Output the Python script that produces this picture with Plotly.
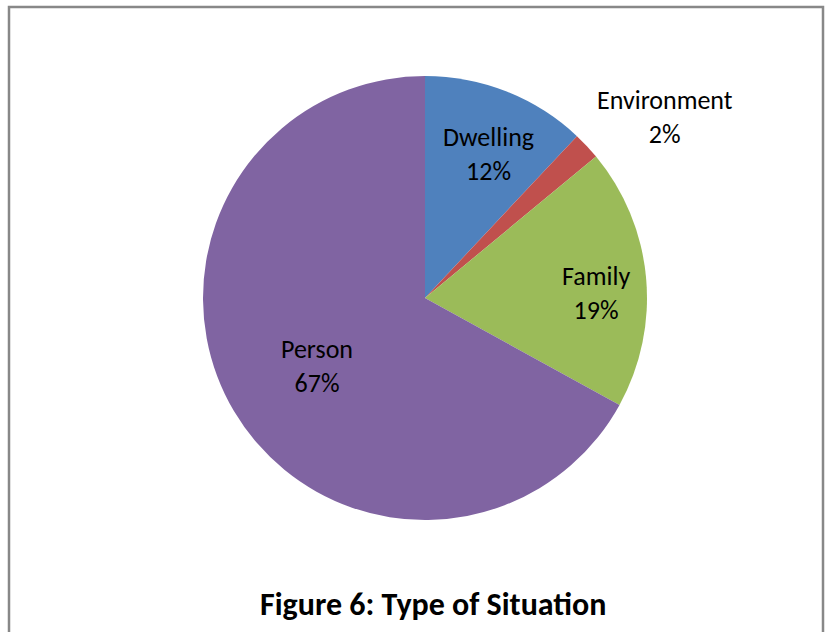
import math
import plotly.graph_objects as go

# Situation types and their shares (%)
categories = ["Dwelling", "Environment", "Family", "Person"]
shares = [12, 2, 19, 67]
colors = ["#4F81BD", "#C0504D", "#9BBB59", "#8064A2"]

# Label placement: fraction of the radius and angular nudge (degrees) per label
label_radius = {"Dwelling": 0.72, "Environment": 1.36, "Family": 0.77, "Person": 0.57}
label_angle_shift = {"Dwelling": 2, "Environment": 6, "Family": 3, "Person": -1}

W, H = 827, 632
cx, cy, r = 425, 298, 222  # pie centre and radius in pixels
FONT = "Carlito, Lato, sans-serif"

fig = go.Figure(go.Pie(
    labels=categories,
    values=shares,
    sort=False,
    direction="clockwise",
    rotation=0,
    marker=dict(colors=colors, line=dict(width=0)),
    textinfo="none",
    hoverinfo="label+percent",
    domain=dict(x=[(cx - r) / W, (cx + r) / W], y=[1 - (cy + r) / H, 1 - (cy - r) / H]),
    showlegend=False,
))

# Category / percentage labels placed at each slice's mid-angle
total = sum(shares)
cum = 0
annotations = []
for name, v in zip(categories, shares):
    mid = (cum + v / 2) / total * 360 + label_angle_shift[name]
    cum += v
    rr = r * label_radius[name]
    px = cx + rr * math.sin(math.radians(mid))
    py = cy - rr * math.cos(math.radians(mid)) + 2
    annotations.append(dict(
        x=px / W, y=1 - py / H, xref="paper", yref="paper",
        xanchor="center", yanchor="middle",
        text=f"{name}<br>{round(v / total * 100)}%",
        showarrow=False, align="center",
        font=dict(family=FONT, size=26, color="#000000"),
    ))

annotations.append(dict(
    x=433 / W, y=1 - 604 / H, xref="paper", yref="paper",
    xanchor="center", yanchor="middle",
    text="<b>Figure 6: Type of Situation</b>", showarrow=False,
    font=dict(family=FONT, size=32, color="#000000"),
))

fig.update_layout(
    width=W, height=H,
    margin=dict(l=0, r=0, t=0, b=0),
    paper_bgcolor="white", plot_bgcolor="white",
    annotations=annotations,
    shapes=[dict(type="rect", xref="paper", yref="paper",
                 x0=9 / W, x1=823 / W, y0=-0.05, y1=1 - 7 / H,
                 line=dict(color="#888888", width=2.5))],
)

fig.write_html("out.html")
